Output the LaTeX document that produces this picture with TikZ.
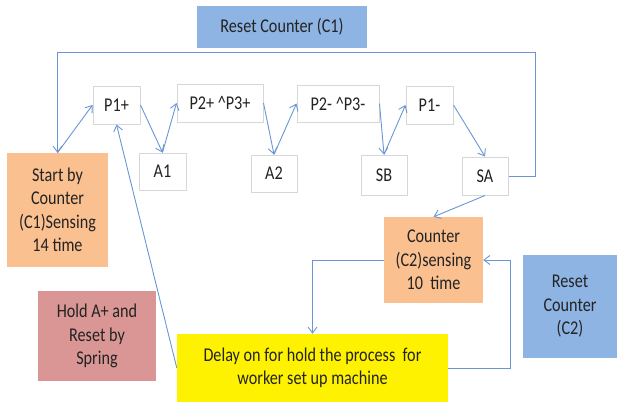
\documentclass[tikz,border=0pt]{standalone}
\usepackage{fontspec}
\setmainfont{Carlito}[FakeStretch=0.83]
\usetikzlibrary{arrows.meta}
\definecolor{flow}{RGB}{105,150,212}
\definecolor{blueacc}{RGB}{142,180,227}
\definecolor{orangeacc}{RGB}{250,192,144}
\definecolor{pinkacc}{RGB}{217,150,148}
\definecolor{edgegray}{RGB}{215,215,215}
\definecolor{ink}{RGB}{35,35,35}
\tikzset{
  stepbox/.style={draw=edgegray, line width=1pt, fill=white, inner sep=0pt, align=center, text=ink},
  fillbox/.style={inner sep=0pt, align=center, text=ink},
  flowline/.style={draw=flow, line width=0.9pt},
  flowarrow/.style={flowline, -{Straight Barb[length=6pt,width=9pt,line width=0.9pt]}},
}
\begin{document}
\begin{tikzpicture}[x=1pt, y=-1pt, font=\fontsize{19.5}{23.5}\selectfont]
\useasboundingbox (0,0) rectangle (617,405);

% sequence steps
\node[stepbox, minimum width=47, minimum height=38] (p1p) at (116.5,105) {P1+};
\node[stepbox, minimum width=86, minimum height=38] (p23p) at (220,103) {P2+ \^{}P3+};
\node[stepbox, minimum width=82, minimum height=37] (p23m) at (338,103.5) {P2- \^{}P3-};
\node[stepbox, minimum width=47, minimum height=38] (p1m) at (429.5,105) {P1-};
\node[stepbox, minimum width=47, minimum height=37] (a1) at (162.5,171.5) {A1};
\node[stepbox, minimum width=46, minimum height=37] (a2) at (274,173.5) {A2};
\node[stepbox, minimum width=46, minimum height=40] (sb) at (384,175) {SB};
\node[stepbox, minimum width=46, minimum height=38] (sa) at (485,176) {SA};

% control blocks
\node[fillbox, fill=blueacc, minimum width=170, minimum height=42] (rc1) at (282,27) {Reset Counter (C1)};
\node[fillbox, fill=orangeacc, minimum width=101, minimum height=114] (start) at (57.5,210) {Start by\\Counter\\(C1)Sensing\\14 time};
\node[fillbox, fill=orangeacc, minimum width=99, minimum height=86] (cnt) at (433.5,260) {Counter\\(C2)sensing\\10~~time};
\node[fillbox, fill=blueacc, minimum width=94, minimum height=103] (rc2) at (570,306.5) {Reset\\Counter\\(C2)};
\node[fillbox, fill=pinkacc, minimum width=118, minimum height=90] (hold) at (97,336) {Hold A+ and\\Reset by\\Spring};
\node[fillbox, fill=yellow, minimum width=271, minimum height=68] (dly) at (312.5,368) {Delay on for hold the process~~for\\worker set up machine};

% zig-zag sequence
\draw[flowarrow] (start.north) -- (p1p.west);
\draw[flowarrow] (p1p.east) -- (a1.north);
\draw[flowarrow] (a1.north) -- (p23p.west);
\draw[flowarrow] (p23p.east) -- (a2.north);
\draw[flowarrow] (a2.north) -- (p23m.west);
\draw[flowarrow] (p23m.east) -- (sb.north);
\draw[flowarrow] (sb.north) -- (p1m.west);
\draw[flowarrow] (p1m.east) -- (sa.north);

% loop back to the start counter
\coordinate (topright) at (535,52);
\draw[flowarrow] (sa.east) -| (topright) -| (start.north);

% counter C2 and delay loop
\draw[flowarrow] (sa.south) -- (cnt.north);
\draw[flowarrow] (cnt.west) -| (dly.north);
\coordinate (loopright) at (510,368);
\draw[flowarrow] (dly.east) -- (loopright) |- (cnt.east);
\draw[flowarrow] (dly.west) -- (p1p.south);
\end{tikzpicture}
\end{document}
